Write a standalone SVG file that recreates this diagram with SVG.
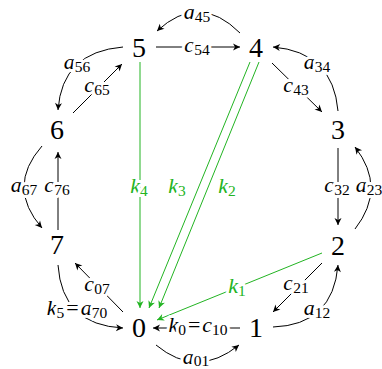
<svg xmlns="http://www.w3.org/2000/svg" width="382" height="369" viewBox="0 0 382 369">
<style>
.e{fill:none;stroke:#000;stroke-width:1;marker-end:url(#ah)}
.g{fill:none;stroke:#22b422;stroke-width:1;marker-end:url(#ahg)}
.n{font-family:"Liberation Serif","Times New Roman",serif;font-size:28px;text-anchor:middle;fill:#000}
.l{font-family:"Liberation Serif","Times New Roman",serif;font-size:22px;font-style:italic;text-anchor:middle;fill:#000;stroke:#fff;stroke-width:6;stroke-linejoin:round;paint-order:stroke}
.lg{fill:#22b422}
.s{font-size:15.5px;font-style:normal}
.q{font-style:normal}
</style>
<defs>
<marker id="ah" viewBox="-8 -4 9 8" refX="0" refY="0" markerWidth="9" markerHeight="8" markerUnits="userSpaceOnUse" orient="auto"><path d="M0,0 L-7,-3.5 L-5,0 L-7,3.5 Z" fill="#000"/></marker>
<marker id="ahg" viewBox="-8 -4 9 8" refX="0" refY="0" markerWidth="9" markerHeight="8" markerUnits="userSpaceOnUse" orient="auto"><path d="M0,0 L-7,-3.5 L-5,0 L-7,3.5 Z" fill="#22b422"/></marker>
</defs>
<g id="connectors">
<path id="e-a45" class="e" d="M240,33 Q199,-8 157,31"/>
<path id="e-c54" class="e" d="M156,47 L240,47"/>
<path id="e-a56" class="e" d="M123,47 Q62,52 58,110"/>
<path id="e-c65" class="e" d="M73,113 L122,64"/>
<path id="e-a34" class="e" d="M338,111 Q333,52 273,47"/>
<path id="e-c43" class="e" d="M272,63 L322,112"/>
<path id="e-c32" class="e" d="M338,148 L338,225"/>
<path id="e-a23" class="e" d="M355,229 Q387,188 355,147"/>
<path id="e-a67" class="e" d="M42,146 Q6,187 42,228"/>
<path id="e-c76" class="e" d="M58,230 L58,152"/>
<path id="e-c07" class="e" d="M123,312 L75,263"/>
<path id="e-a70" class="e" d="M58,265 Q62,325 123,328"/>
<path id="e-c10" class="e" d="M240,328 L153,328"/>
<path id="e-a01" class="e" d="M156,345 Q197,379 239,345"/>
<path id="e-c21" class="e" d="M322,263 L273,312"/>
<path id="e-a12" class="e" d="M273,327 Q333,325 338,265"/>
<path id="e-k4" class="g" d="M140,62 L140,308"/>
<path id="e-k3" class="g" d="M250,62 L149,308"/>
<path id="e-k2" class="g" d="M259,62 L159,308"/>
<path id="e-k1" class="g" d="M322,253 L157,320"/>
<g id="edge-labels">
<text class="l" x="197" y="19">a<tspan class="s" dy="3">45</tspan></text>
<text class="l" x="197" y="52">c<tspan class="s" dy="3">54</tspan></text>
<text class="l" x="77" y="69">a<tspan class="s" dy="3">56</tspan></text>
<text class="l" x="97" y="92">c<tspan class="s" dy="3">65</tspan></text>
<text class="l" x="317" y="69">a<tspan class="s" dy="3">34</tspan></text>
<text class="l" x="296" y="92">c<tspan class="s" dy="3">43</tspan></text>
<text class="l" x="337" y="192">c<tspan class="s" dy="3">32</tspan></text>
<text class="l" x="369" y="192">a<tspan class="s" dy="3">23</tspan></text>
<text class="l" x="24" y="192">a<tspan class="s" dy="3">67</tspan></text>
<text class="l" x="57" y="192">c<tspan class="s" dy="3">76</tspan></text>
<text class="l lg" x="139" y="193">k<tspan class="s" dy="3">4</tspan></text>
<text class="l lg" x="177" y="193">k<tspan class="s" dy="3">3</tspan></text>
<text class="l lg" x="227" y="193">k<tspan class="s" dy="3">2</tspan></text>
<text class="l lg" x="237" y="293">k<tspan class="s" dy="3">1</tspan></text>
<text class="l" x="97" y="291">c<tspan class="s" dy="3">07</tspan></text>
<text class="l" x="77" y="315">k<tspan class="s" dy="3">5</tspan><tspan class="q" dy="-3" dx="2">=</tspan><tspan dx="2">a</tspan><tspan class="s" dy="3">70</tspan></text>
<text class="l" x="198" y="332">k<tspan class="s" dy="3">0</tspan><tspan class="q" dy="-3" dx="2">=</tspan><tspan dx="2">c</tspan><tspan class="s" dy="3">10</tspan></text>
<text class="l" x="196" y="364">a<tspan class="s" dy="2">01</tspan></text>
<text class="l" x="296" y="290">c<tspan class="s" dy="3">21</tspan></text>
<text class="l" x="317" y="315">a<tspan class="s" dy="3">12</tspan></text>
</g>
</g>
<g id="n5"><text class="n" x="139" y="57">5</text></g>
<g id="n4"><text class="n" x="256" y="57">4</text></g>
<g id="n6"><text class="n" x="57" y="139">6</text></g>
<g id="n3"><text class="n" x="338" y="139">3</text></g>
<g id="n7"><text class="n" x="57" y="254">7</text></g>
<g id="n2"><text class="n" x="338" y="255">2</text></g>
<g id="n0"><text class="n" x="139" y="337">0</text></g>
<g id="n1"><text class="n" x="256" y="337">1</text></g>
</svg>
